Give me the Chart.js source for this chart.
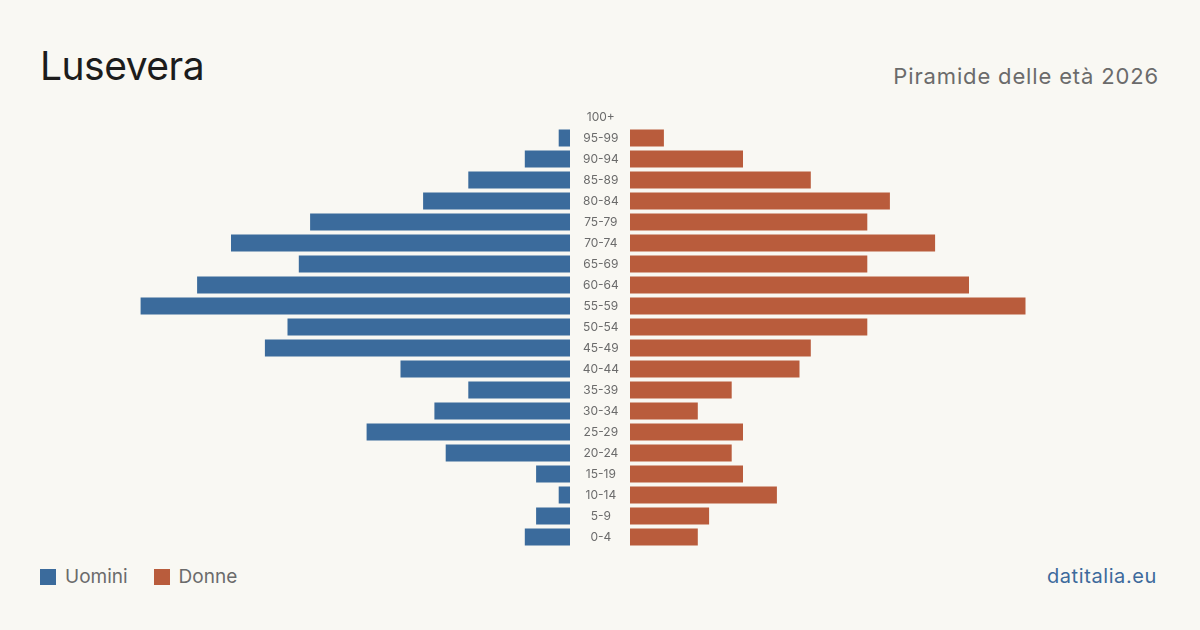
<!DOCTYPE html>
<html>
<head>
<meta charset="utf-8">
<script src="https://cdn.jsdelivr.net/npm/chart.js@4/dist/chart.umd.min.js"></script>
<style>
    body { margin: 0; background: #f9f8f3; width: 1200px; height: 630px; overflow: hidden; font-family: Inter, "Noto Sans", sans-serif; position: relative; }
    h1 { position: absolute; left: 40px; top: 42px; margin: 0; font-size: 39px; font-weight: 400; color: #1c1c1c; letter-spacing: -0.5px; }
    .sub { position: absolute; right: 41px; top: 63px; font-size: 22px; color: #6b6b6b; letter-spacing: 0.85px; }
    .legend { position: absolute; left: 40px; top: 565px; font-size: 19px; color: #6b6b6b; display: flex; align-items: center; }
    .legend span.box { display: inline-block; width: 16px; height: 16px; margin-right: 9px; }
    .legend .item { display: flex; align-items: center; margin-right: 26px; }
    .site { position: absolute; right: 43px; top: 564px; font-size: 20px; color: #3d6a9c; letter-spacing: 0.6px; }
    #left { position: absolute; left: 118px; top: 100px; }
    #right { position: absolute; left: 570px; top: 100px; }
</style>
</head>
<body>
<h1>Lusevera</h1>
<div class="sub">Piramide delle età 2026</div>
<div class="legend">
    <div class="item"><span class="box" style="background:#3b6b9c"></span>Uomini</div>
    <div class="item"><span class="box" style="background:#b95c3c"></span>Donne</div>
</div>
<div class="site">datitalia.eu</div>
<canvas id="left" width="452" height="454"></canvas>
<canvas id="right" width="512" height="454"></canvas>
<script>
// fasce d'età dall'alto verso il basso
let ageGroups = ['100+', '95-99', '90-94', '85-89', '80-84', '75-79', '70-74', '65-69', '60-64', '55-59',
    '50-54', '45-49', '40-44', '35-39', '30-34', '25-29', '20-24', '15-19', '10-14', '5-9', '0-4'];
let men = [0, 1, 4, 9, 13, 23, 30, 24, 33, 38, 25, 27, 15, 9, 12, 18, 11, 3, 1, 3, 4];
let women = [0, 3, 10, 16, 23, 21, 27, 21, 30, 35, 21, 16, 15, 9, 6, 10, 9, 10, 13, 7, 6];
let xMax = 40;

function makeSide(id, values, color, reverse, showLabels) {
    const ctx = document.getElementById(id).getContext('2d');
    return new Chart(ctx, {
        type: 'bar',
        data: {
            labels: ageGroups,
            datasets: [{
                data: values,
                backgroundColor: color,
                borderWidth: 0,
                barPercentage: 0.81,
                categoryPercentage: 1
            }]
        },
        options: {
            indexAxis: 'y',
            responsive: false,
            animation: false,
            layout: { padding: { top: 6.5, bottom: 6.5, left: 0, right: 0 } },
            plugins: { legend: { display: false }, tooltip: { enabled: false } },
            scales: {
                x: { display: false, min: 0, max: xMax, reverse: reverse },
                y: {
                    display: showLabels,
                    grid: { display: false },
                    border: { display: false },
                    ticks: {
                        crossAlign: 'center',
                        padding: 3,
                        color: '#6b6b6b',
                        font: { family: 'Inter, "Noto Sans", sans-serif', size: 12 }
                    },
                    // only the women's side carries the age labels in the middle gap
                    afterFit: showLabels ? function (scale) {
                        scale.width = 60;
                        scale.paddingTop = 0;
                        scale.paddingBottom = 0;
                    } : undefined
                }
            }
        }
    });
}

makeSide('left', men, '#3b6b9c', true, false);
makeSide('right', women, '#b95c3c', false, true);
</script>
</body>
</html>
